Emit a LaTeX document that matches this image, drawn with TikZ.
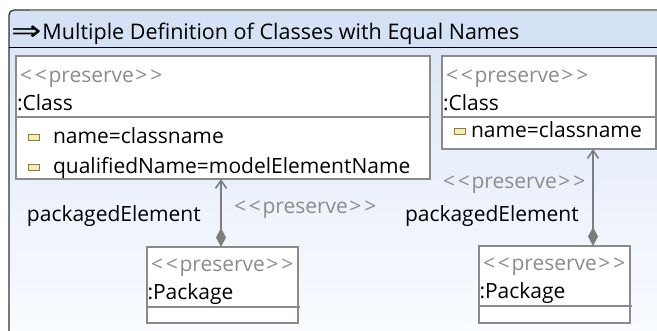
\documentclass[tikz,border=0pt]{standalone}
\usepackage{fontspec}
\setmainfont{Open Sans}
\newfontfamily\symfont{DejaVu Sans}
\usetikzlibrary{arrows.meta}

\definecolor{titleblue}{RGB}{213,225,244}
\definecolor{bodytop}{RGB}{222,231,247}
\definecolor{bodybottom}{RGB}{250,252,255}
\definecolor{framedark}{RGB}{50,50,50}
\definecolor{framegray}{RGB}{140,140,140}
\definecolor{boxgray}{RGB}{138,138,138}
\definecolor{stereogray}{RGB}{140,140,140}
\definecolor{linegray}{RGB}{125,125,125}
\definecolor{iconfill}{RGB}{243,236,180}
\definecolor{iconborder}{RGB}{140,125,75}

% stereotype text with separate, spaced angle brackets
\newcommand{\stereotxt}[1]{<\kern3pt<\kern1.5pt#1\kern1.5pt>\kern3pt>}

\begin{document}
\begin{tikzpicture}[x=1pt,y=-1pt,
  txt/.style={anchor=base west, inner sep=0pt, outer sep=0pt, font=\fontsize{21}{25}\selectfont},
  stereo/.style={txt, text=stereogray},
  box/.style={draw=boxgray, line width=1.3pt, fill=white, anchor=north west, inner sep=0pt, outer sep=0pt},
  sep/.style={draw=boxgray, line width=1.3pt},
  attricon/.style={draw=iconborder, fill=iconfill, line width=1pt, minimum width=11pt, minimum height=6pt, inner sep=0pt, outer sep=0pt},
  assoc/.style={draw=linegray, line width=1.6pt,
    {Diamond[length=19pt,width=10pt,fill=linegray]}-{Straight Barb[length=8pt,width=11pt,line width=1.6pt]}},
]
\useasboundingbox (0,0) rectangle (657,331);

% frame: title bar and shaded body
\fill[titleblue, rounded corners=5pt] (9,10) rectangle (700,70);
\shade[top color=bodytop, bottom color=bodybottom] (9,47.5) rectangle (700,340);
\draw[framedark, line width=1.3pt, rounded corners=5pt] (9,400) -- (9,10) -- (40,10);
\draw[framegray, line width=1.1pt] (30,10) -- (700,10);
\draw[black, line width=1.2pt] (9,47.5) -- (700,47.5);
\node[txt, font=\fontsize{21.5}{25}\selectfont] (title) at (11,39.5)
  {\raisebox{-1pt}{\scalebox{1.3}[1]{\symfont\fontsize{28}{28}\selectfont ⇒}}\kern1pt Multiple Definition of Classes with Equal Names};

% first class
\node[box, minimum width=414pt, minimum height=123pt] (c1) at (16,56) {};
\draw[sep] (c1.west |- 0,117) -- (c1.east |- 0,117);
\node[stereo] (c1s) at (20,83) {\stereotxt{preserve}};
\node[txt] (c1n) at (17,111) {:Class};
\node[attricon] (c1i1) at (34,138) {};
\node[txt] (c1a1) at (53,144) {name=classname};
\node[attricon] (c1i2) at (34,168) {};
\node[txt] (c1a2) at (53,174) {qualifiedName=modelElementName};

% second class
\node[box, minimum width=214pt, minimum height=93pt] (c2) at (442,56) {};
\draw[sep] (c2.west |- 0,117) -- (c2.east |- 0,117);
\node[stereo] (c2s) at (446,83) {\stereotxt{preserve}};
\node[txt] (c2n) at (443,111) {:Class};
\node[attricon] (c2i1) at (460,132) {};
\node[txt] (c2a1) at (471,138) {name=classname};

% first package
\node[box, minimum width=151pt, minimum height=76pt] (p1) at (147,247) {};
\draw[sep] (p1.west |- 0,307) -- ([xshift=2pt]p1.east |- 0,307);
\node[stereo] (p1s) at (151,272) {\stereotxt{preserve}};
\node[txt] (p1n) at (147.5,300) {:Package};

% second package
\node[box, minimum width=151pt, minimum height=77pt] (p2) at (479,246) {};
\draw[sep] (p2.west |- 0,306) -- ([xshift=2pt]p2.east |- 0,306);
\node[stereo] (p2s) at (483,271) {\stereotxt{preserve}};
\node[txt] (p2n) at (479.5,299) {:Package};

% composition links
\draw[assoc] ([xshift=74pt]p1.north west) -- ([xshift=74pt]p1.north west |- c1.south);
\node[txt] (l1r) at (27,222) {packagedElement};
\node[stereo] (l1s) at (234,214) {\stereotxt{preserve}};

\draw[assoc] ([xshift=114pt]p2.north west) -- ([xshift=114pt]p2.north west |- c2.south);
\node[stereo] (l2s) at (443,189) {\stereotxt{preserve}};
\node[txt] (l2r) at (405,222) {packagedElement};
\end{tikzpicture}
\end{document}
